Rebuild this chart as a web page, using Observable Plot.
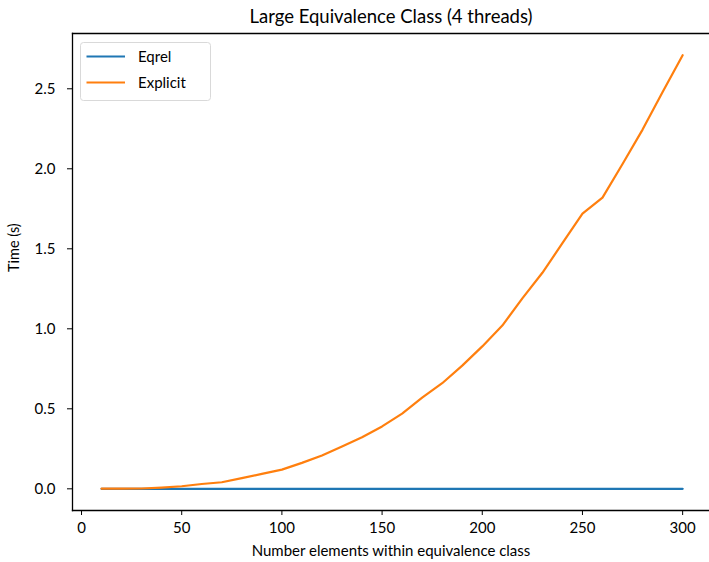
<!DOCTYPE html>
<html>
<head>
<meta charset="utf-8">
<script src="https://cdn.jsdelivr.net/npm/d3@7"></script>
<script src="https://cdn.jsdelivr.net/npm/@observablehq/plot@0.6"></script>
<style>
  html, body { margin: 0; padding: 0; background: #fff; }
  #chart { width: 709px; height: 562px; }
</style>
</head>
<body>
<div id="chart"></div>
<script>
const title = "Large Equivalence Class (4 threads)";
const xLabel = "Number elements within equivalence class";
const yLabel = "Time (s)";
const seriesNames = ["Eqrel", "Explicit"];
const seriesColors = ["#1f77b4", "#ff7f0e"];
const sizes = [10,20,30,40,50,60,70,80,90,100,110,120,130,140,150,160,170,180,190,200,210,220,230,240,250,260,270,280,290,300];
const eqrel = [0,0,0,0,0,0,0,0,0,0,0,0,0,0,0,0,0,0,0,0,0,0,0,0,0,0,0,0,0,0];
const explicit = [0.001,0.001,0.002,0.008,0.016,0.03,0.041,0.067,0.093,0.12,0.162,0.208,0.265,0.322,0.39,0.47,0.57,0.66,0.77,0.89,1.02,1.19,1.35,1.535,1.72,1.82,2.03,2.245,2.48,2.71];
const xTicks = [0,50,100,150,200,250,300];
const yTicks = [0,0.5,1.0,1.5,2.0,2.5];

const rows = [];
sizes.forEach((s, i) => {
  rows.push({size: s, time: eqrel[i], series: seriesNames[0]});
  rows.push({size: s, time: explicit[i], series: seriesNames[1]});
});

const font = "Lato, 'DejaVu Sans', sans-serif";
const yMax = Math.max(...explicit), yMin = 0;
const yPad = (yMax - yMin) * 0.05;
const xPad = (sizes[sizes.length-1] - sizes[0]) * 0.05;

const legendRows = seriesNames.map((n, i) => ({name: n, color: seriesColors[i], i}));

const plot = Plot.plot({
  width: 709,
  height: 562,
  marginLeft: 72,
  marginRight: 0,
  marginTop: 33,
  marginBottom: 52,
  style: {fontFamily: font, fontSize: "14px", color: "#000", background: "#fff"},
  x: {domain: [sizes[0] - xPad, sizes[sizes.length-1] + xPad * 0.924], label: null},
  y: {domain: [yMin - yPad, yMax + yPad], label: null},
  color: {domain: seriesNames, range: seriesColors},
  marks: [
    Plot.line(rows, {x: "size", y: "time", stroke: "series", strokeWidth: 2.2, curve: "linear"}),
    Plot.axisX({ticks: xTicks, tickSize: 5, tickPadding: 7, fontSize: 15, tickFormat: d => String(d), label: null}),
    Plot.axisY({ticks: yTicks, tickSize: 5, tickPadding: 12, fontSize: 15, tickFormat: d => d.toFixed(1), label: null}),
    Plot.frame({anchor: "left", strokeWidth: 1.3}),
    Plot.frame({anchor: "bottom", strokeWidth: 1.3}),
    Plot.frame({anchor: "top", strokeWidth: 1.3}),
    Plot.text([title], {frameAnchor: "top", lineAnchor: "middle", dy: -16, fontSize: 18.5, fill: "#000"}),
    Plot.text([xLabel], {frameAnchor: "bottom", lineAnchor: "middle", dy: 41, fontSize: 15, fill: "#000"}),
    Plot.text([yLabel], {frameAnchor: "left", dx: -58, rotate: -90, fontSize: 14.5, fill: "#000"})
  ]
});

// Legend drawn as SVG overlay inside the plot's svg
const svg = d3.select(plot);
const lg = svg.append("g").attr("font-family", font).attr("font-size", 15).attr("text-anchor", "start");
lg.append("rect").attr("x", 80.5).attr("y", 42.5).attr("width", 130).attr("height", 58)
  .attr("rx", 3).attr("fill", "#fff").attr("fill-opacity", 0.8).attr("stroke", "#d9d9d9");
legendRows.forEach(d => {
  const yy = 56.5 + d.i * 26;
  lg.append("line").attr("x1", 86.5).attr("x2", 125).attr("y1", yy).attr("y2", yy)
    .attr("stroke", d.color).attr("stroke-width", 2.2);
  lg.append("text").attr("x", 138).attr("y", yy).attr("dy", "0.35em").attr("fill", "#000").text(d.name);
});

document.getElementById("chart").appendChild(plot);
</script>
</body>
</html>
